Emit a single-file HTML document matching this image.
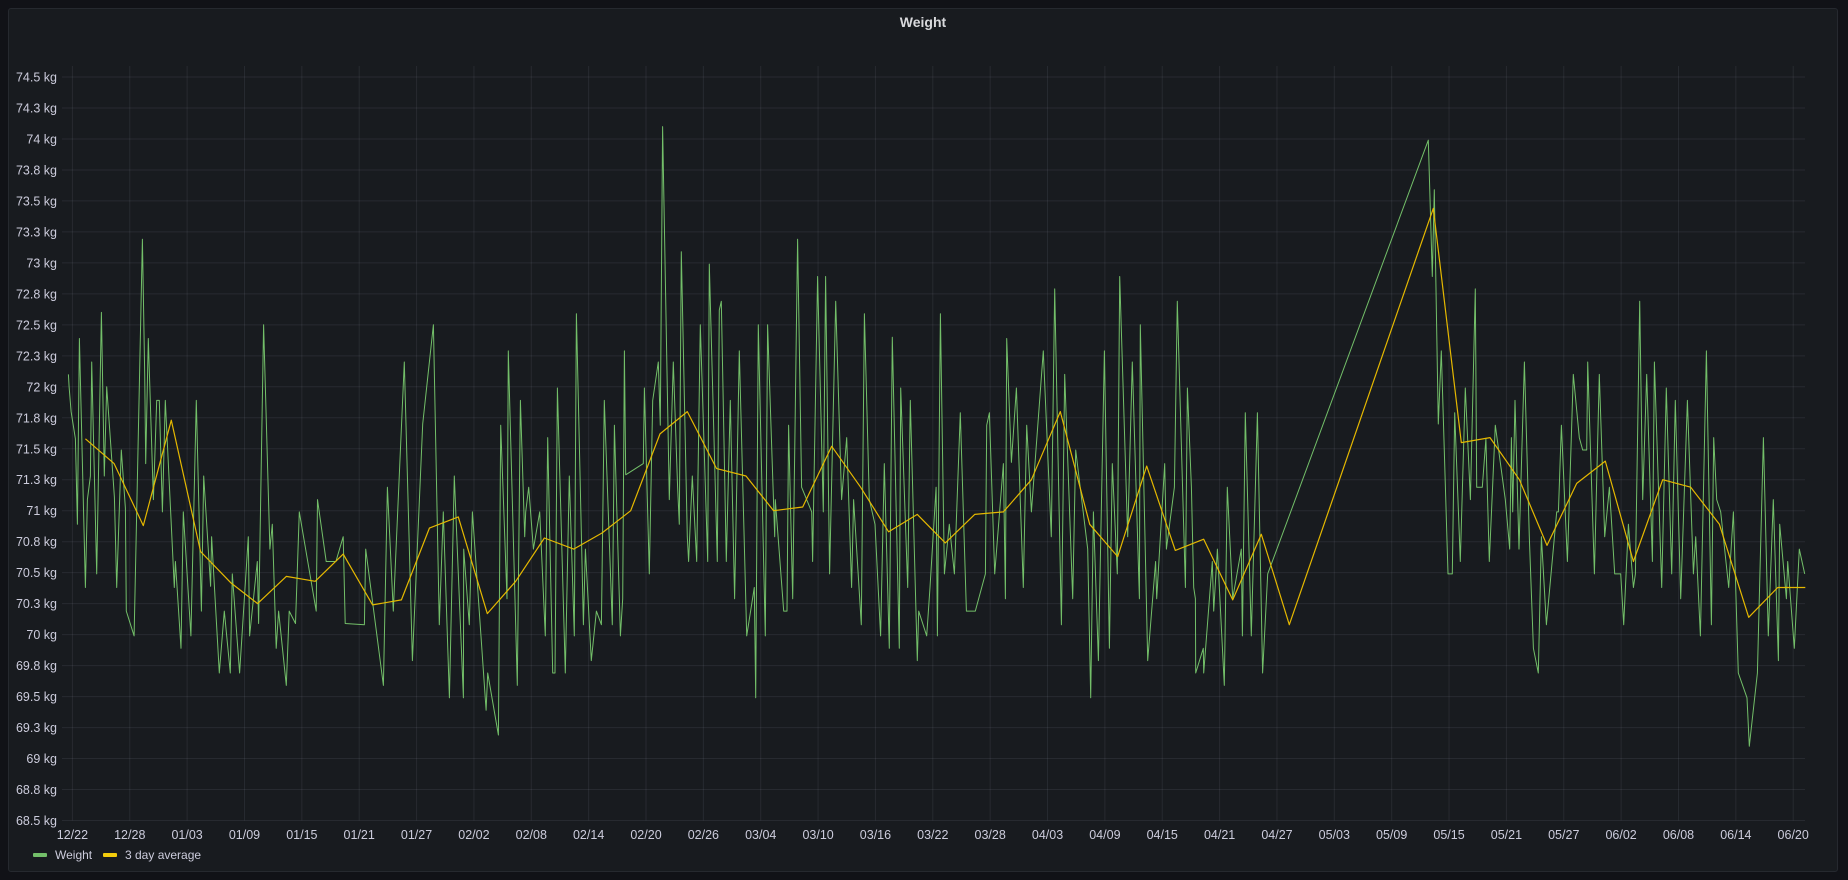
<!DOCTYPE html>
<html><head><meta charset="utf-8"><title>Weight</title>
<style>
html,body{margin:0;padding:0;background:#111217;width:1848px;height:880px;overflow:hidden;}
#panel{position:absolute;left:8px;top:8px;width:1830px;height:864px;background:#181b1f;border:1px solid #26292f;border-radius:3px;box-sizing:border-box;}
svg{position:absolute;left:0;top:0;}
text{font-family:"Liberation Sans",sans-serif;}
</style></head>
<body>
<div id="panel"></div>
<svg id="chart" width="1848" height="880">
  <text x="923" y="27" text-anchor="middle" fill="#d8d9dc" font-size="14" font-weight="bold">Weight</text>
  <g id="grid"></g>
  <g id="yaxis"></g>
  <g id="xaxis"></g>
  <g id="series"></g>
  <g>
    <g>
      <rect x="33" y="853" width="14" height="4" rx="1" fill="#73bf69"/>
      <text x="55" y="859" fill="#ccccdc" font-size="12">Weight</text>
    </g>
    <g>
      <rect x="103" y="853" width="14" height="4" rx="1" fill="#f2cc0c"/>
      <text x="125" y="859" fill="#ccccdc" font-size="12">3 day average</text>
    </g>
  </g>
</svg>
<script>
// day offsets from 12/22, values in kg
const weightDays = [-0.42,-0.35,-0.14,0.31,0.52,0.73,1.36,1.57,1.88,2.02,2.54,3.03,3.34,3.59,4.39,4.63,5.12,5.54,5.64,6.45,7.32,7.56,7.67,7.94,8.47,8.82,9.09,9.41,9.72,10.66,10.77,11.36,11.6,12.4,12.96,13.49,13.73,14.46,14.56,15.37,15.89,16.52,16.73,17.49,18.4,18.54,19.34,19.48,20.0,20.66,20.91,21.32,21.57,22.37,22.68,23.34,23.73,25.5,25.64,26.55,27.56,28.33,28.54,
30.54,30.68,32.53,32.95,33.57,34.72,35.56,36.64,37.76,38.38,38.8,39.43,39.95,40.9,40.93,41.52,41.84,43.27,43.44,44.56,44.8,45.46,45.6,46.54,46.86,47.31,47.42,47.73,48.22,48.88,49.47,49.72,50.24,50.48,50.73,51.56,51.98,52.5,52.72,53.45,53.66,54.28,54.81,55.33,55.64,56.48,56.69,57.32,57.56,57.74,57.88,59.72,59.83,60.35,
60.7,61.29,61.5,61.74,62.44,62.86,63.31,63.48,63.69,64.32,64.46,64.84,65.3,65.68,66.45,66.62,67.46,67.67,67.88,68.4,68.82,69.27,69.76,70.53,71.33,71.47,71.75,72.48,72.72,73.46,73.53,74.4,74.75,74.92,75.34,75.86,76.28,77.33,77.43,77.95,78.55,78.79,79.21,79.84,80.46,80.99,81.51,81.72,82.52,82.84,83.36,83.95,84.54,84.93,85.45,85.76,86.5,86.64,87.37,87.65,88.38,88.52,89.36,
89.71,90.34,90.48,90.79,91.21,91.73,92.26,92.88,93.51,94.45,95.5,95.64,95.92,96.47,97.38,97.59,97.73,98.22,98.74,99.47,99.82,100.31,101.56,102.4,102.75,103.45,103.8,104.63,104.95,106.2,106.52,106.8,107.32,107.95,108.47,108.78,109.3,109.55,110.39,110.87,111.61,111.71,112.48,113.31,113.42,114.26,114.43,115.27,115.58,116.42,116.63,117.05,117.29,117.47,117.5,118.3,118.34,119.24,119.38,119.77,
120.49,120.81,121.37,122.27,122.38,122.69,123.32,123.95,124.5,125.03,141.83,142.25,142.46,142.88,143.19,143.89,144.34,144.59,145.18,145.7,146.23,146.75,146.89,147.48,147.86,148.21,148.84,149.89,150.34,
150.52,150.66,150.9,151.32,151.88,152.4,152.82,153.34,153.66,154.18,155.26,155.44,155.75,156.38,157.0,157.63,157.98,158.4,158.5,159.2,159.72,160.28,160.77,161.33,161.96,162.27,162.76,163.28,163.49,163.94,164.26,164.68,165.27,165.48,166.24,166.73,167.29,167.67,168.23,168.93,169.56,169.8,170.29,170.92,171.44,171.68,172.0,172.42,173.25,173.74,174.26,175.17,175.41,176.25,176.88,177.4,177.92,178.45,178.59,179.29,179.42,180.12,180.64,181.2];
const weightValues = [72.10,72.0,71.80,71.58,70.89,72.39,70.38,71.09,71.28,72.20,70.49,72.60,71.28,72.0,71.11,70.38,71.49,71.02,70.19,69.99,73.19,72.10,71.38,72.39,71.09,71.89,71.89,70.99,71.89,70.38,70.59,69.89,70.99,69.99,71.89,70.19,71.28,70.39,70.79,69.69,70.19,69.69,70.49,69.69,70.79,69.99,70.59,70.09,72.5,70.69,70.89,69.89,70.19,69.59,70.19,70.09,70.99,70.19,71.09,70.59,70.59,70.79,70.09,
70.08,70.69,69.59,71.19,70.19,72.2,69.79,71.70,72.5,70.08,70.99,69.49,71.28,69.49,70.69,70.08,70.99,69.39,69.69,69.19,71.69,70.29,72.29,69.59,71.89,70.79,70.99,71.19,70.69,70.99,69.99,71.59,69.69,69.69,71.99,69.69,71.28,69.99,72.59,70.08,70.69,69.79,70.19,70.08,71.89,70.08,71.69,69.99,70.29,72.29,71.29,71.38,71.99,70.49,
71.89,72.2,71.69,74.1,71.09,72.2,71.19,70.89,73.09,70.79,70.59,71.28,70.59,72.5,70.59,72.99,70.59,72.62,72.69,70.59,71.89,70.29,72.29,69.99,70.38,69.49,72.5,69.99,72.5,70.79,71.09,70.19,70.19,71.69,70.29,73.19,71.19,70.99,70.59,72.89,70.99,72.89,70.49,72.69,71.09,71.59,70.38,71.09,70.08,72.59,71.09,70.89,69.99,71.38,69.89,72.4,69.89,71.99,70.38,71.89,69.79,70.19,69.99,
70.38,71.19,69.99,72.59,70.49,70.89,70.49,71.79,70.19,70.19,70.49,71.69,71.79,70.49,71.38,70.29,72.39,71.39,71.99,70.38,71.69,70.99,72.29,70.79,72.79,70.08,72.10,70.29,71.49,70.69,69.49,70.99,69.79,72.29,69.89,71.38,70.49,72.89,70.79,72.2,70.29,72.5,69.79,70.59,70.29,71.38,70.69,71.19,72.69,70.38,71.99,71.19,70.38,70.29,69.69,69.89,69.69,70.59,70.19,70.69,
69.59,71.19,70.29,70.69,69.99,71.79,69.99,71.79,69.69,70.49,73.99,72.89,73.59,71.70,72.29,70.49,70.49,71.79,70.59,71.99,71.09,72.79,71.19,71.19,71.58,70.59,71.69,71.09,70.69,
71.59,70.99,71.89,70.69,72.2,70.79,69.89,69.69,70.79,70.08,70.99,70.99,71.69,70.59,72.10,71.59,71.49,71.49,72.2,70.49,72.10,70.79,71.19,70.49,70.49,70.08,70.89,70.38,70.49,72.69,71.09,72.10,70.59,72.2,70.38,71.99,70.49,71.89,70.29,71.89,70.49,70.79,69.99,72.29,70.08,71.59,71.09,70.99,70.38,70.99,69.69,69.49,69.10,69.69,71.59,69.99,71.09,69.79,70.89,70.29,70.59,69.89,70.69,70.49];
const avgDays = [1.36,4.36,7.42,10.35,13.41,16.55,19.37,22.37,25.4,28.33,31.4,34.41,37.34,40.37,43.4,46.37,49.37,52.44,55.4,58.4,61.46,64.32,67.39,70.46,73.35,76.39,79.42,82.45,85.38,88.38,91.31,94.38,97.38,100.31,103.34,106.41,109.34,112.37,115.37,118.34,121.37,124.36,127.29,142.35,145.28,148.28,151.36,154.25,157.35,160.35,163.28,166.35,169.28,172.28,175.35,178.38,181.27];
const avgValues = [71.58,71.38,70.88,71.73,70.67,70.42,70.25,70.47,70.43,70.65,70.24,70.28,70.86,70.95,70.17,70.43,70.78,70.69,70.82,71.0,71.62,71.80,71.34,71.28,71.0,71.03,71.52,71.19,70.83,70.97,70.74,70.97,70.99,71.25,71.80,70.89,70.63,71.36,70.68,70.77,70.28,70.81,70.08,73.44,71.55,71.59,71.25,70.72,71.22,71.40,70.59,71.25,71.19,70.89,70.14,70.38,70.38];
const yTickValues = [68.5,68.75,69,69.25,69.5,69.75,70,70.25,70.5,70.75,71,71.25,71.5,71.75,72,72.25,72.5,72.75,73,73.25,73.5,73.75,74,74.25,74.5];
const yTickLabels = ["68.5 kg","68.8 kg","69 kg","69.3 kg","69.5 kg","69.8 kg","70 kg","70.3 kg","70.5 kg","70.8 kg","71 kg","71.3 kg","71.5 kg","71.8 kg","72 kg","72.3 kg","72.5 kg","72.8 kg","73 kg","73.3 kg","73.5 kg","73.8 kg","74 kg","74.3 kg","74.5 kg"];
const xTickDays = [0,6,12,18,24,30,36,42,48,54,60,66,72,78,84,90,96,102,108,114,120,126,132,138,144,150,156,162,168,174,180];
const xTickLabels = ["12/22","12/28","01/03","01/09","01/15","01/21","01/27","02/02","02/08","02/14","02/20","02/26","03/04","03/10","03/16","03/22","03/28","04/03","04/09","04/15","04/21","04/27","05/03","05/09","05/15","05/21","05/27","06/02","06/08","06/14","06/20"];

const NS = "http://www.w3.org/2000/svg";
const X0 = 72.4, PXD = 9.56, YTOP = 77, YBOT = 820.5, VMAX = 74.5, VMIN = 68.5;
const PL = 62, PR = 1805;
function xs(d){ return X0 + d * PXD; }
function ys(v){ return YTOP + (VMAX - v) / (VMAX - VMIN) * (YBOT - YTOP); }
function mk(tag, attrs){ const e = document.createElementNS(NS, tag); for (const k in attrs) e.setAttribute(k, attrs[k]); return e; }

const grid = document.getElementById('grid');
const yaxis = document.getElementById('yaxis');
const xaxis = document.getElementById('xaxis');
const series = document.getElementById('series');

yTickValues.forEach((v, i) => {
  const y = ys(v);
  const l = mk('line', {x1: PL, x2: PR, y1: y, y2: y, stroke: 'rgba(204,204,220,0.09)', 'stroke-width': 1});
  
  
  grid.appendChild(l);
  const t = mk('text', {x: 57, y: y + 4.5, 'text-anchor': 'end', fill: '#ccccdc', 'font-size': 12.5});
  t.textContent = yTickLabels[i];
  
  
  yaxis.appendChild(t);
});
xTickDays.forEach((d, i) => {
  const x = xs(d);
  const l = mk('line', {x1: x, x2: x, y1: 66, y2: YBOT, stroke: 'rgba(204,204,220,0.09)', 'stroke-width': 1});
  
  
  grid.appendChild(l);
  const t = mk('text', {x: x, y: 839, 'text-anchor': 'middle', fill: '#ccccdc', 'font-size': 12.5});
  t.textContent = xTickLabels[i];
  
  
  xaxis.appendChild(t);
});

const wp = weightDays.map((d, i) => xs(d).toFixed(1) + ',' + ys(weightValues[i]).toFixed(1)).join(' ');
const wl = mk('polyline', {points: wp, fill: 'none', stroke: '#73bf69', 'stroke-width': 1, 'stroke-linejoin': 'round'});


series.appendChild(wl);

const ap = avgDays.map((d, i) => xs(d).toFixed(1) + ',' + ys(avgValues[i]).toFixed(1)).join(' ');
const al = mk('polyline', {points: ap, fill: 'none', stroke: '#e5b800', 'stroke-width': 1.2, 'stroke-linejoin': 'round'});


series.appendChild(al);
</script>
</body></html>
